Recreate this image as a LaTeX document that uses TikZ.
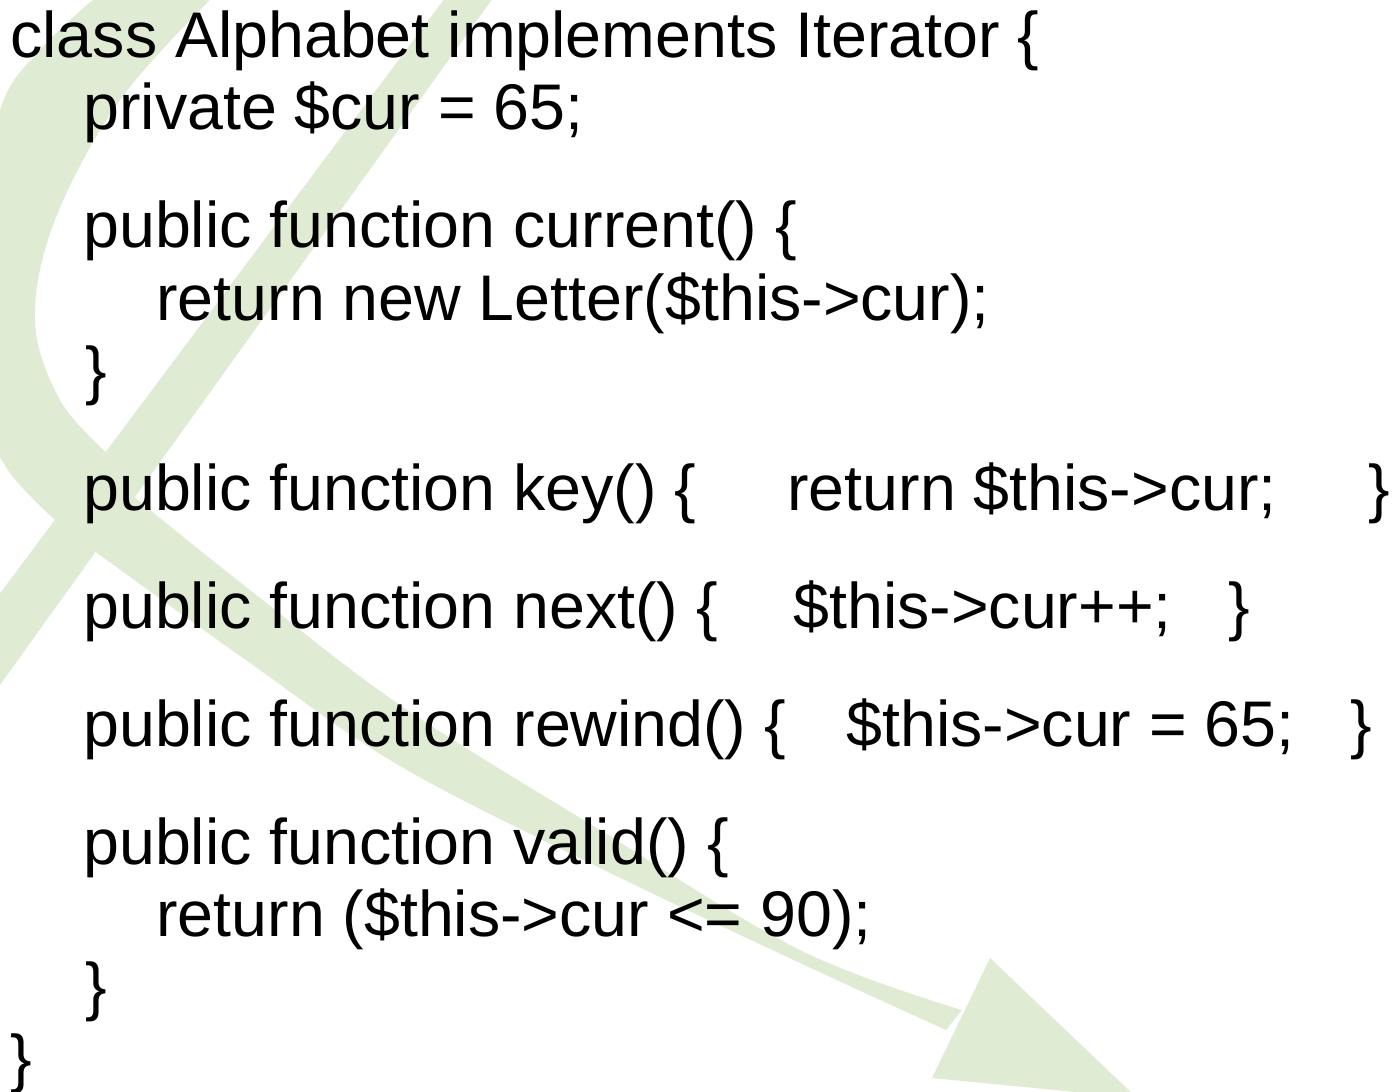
\documentclass[tikz,border=0pt]{standalone}
\usepackage{fontspec}
\setmainfont{Liberation Sans}
\definecolor{swoosh}{RGB}{224,235,211}
\begin{document}
\begin{tikzpicture}[x=0.5pt,y=-0.5pt,
  code/.style={anchor=base west, inner sep=0pt, font=\fontsize{32.25pt}{36pt}\selectfont},
  bg/.style={fill=swoosh, draw=none}]
\useasboundingbox (0,0) rectangle (1395,1091);
\begin{scope}
\clip (0,0) rectangle (1395,1091);
% straight band
\path[bg] (445,-2) -- (493,-2) -- (-5,692) -- (-5,600) -- cycle;
% swoosh and shaft
\path[bg] plot[smooth, tension=0.6] coordinates {(95,-2) (40,50) (0,110) (-25,250) (-15,410) (8,470) (55,520)}
  -- plot[smooth, tension=0.6] coordinates {(97,553) (250,663) (400,766) (600,868) (800,963) (946,1030)}
  -- plot[smooth, tension=0.6] coordinates {(962,1010) (800,950) (600,830) (400,705) (250,590) (134,497)}
  -- plot[smooth, tension=0.6] coordinates {(107,453) (60,400) (35,320) (55,220) (120,100) (212,-2)}
  -- cycle;
% arrow head
\path[bg] (990,958) -- (932,1078) -- (1137,1098) -- cycle;
\end{scope}
\node[code] (l1) at (10,58) {class Alphabet implements Iterator \{};
\node[code] (l2) at (83,130) {private \$cur = 65;};
\node[code] (l3) at (83,248) {public function current() \{};
\node[code] (l4) at (156,320) {return new Letter(\$this->cur);};
\node[code] (l5) at (85,392) {\}};
\node[code] (l6a) at (83,510) {public function key() \{};
\node[code] (l6b) at (787,510) {return \$this->cur;};
\node[code] (l6c) at (1368,510) {\}};
\node[code] (l7a) at (83,628) {public function next() \{};
\node[code] (l7b) at (793,628) {\$this->cur++;};
\node[code] (l7c) at (1228,628) {\}};
\node[code] (l8a) at (83,746) {public function rewind() \{};
\node[code] (l8b) at (846,746) {\$this->cur = 65;};
\node[code] (l8c) at (1350,746) {\}};
\node[code] (l9) at (83,864) {public function valid() \{};
\node[code] (l10) at (156,936) {return (\$this->cur <= 90);};
\node[code] (l11) at (85,1008) {\}};
\node[code] (l12) at (10,1080) {\}};
\end{tikzpicture}
\end{document}
